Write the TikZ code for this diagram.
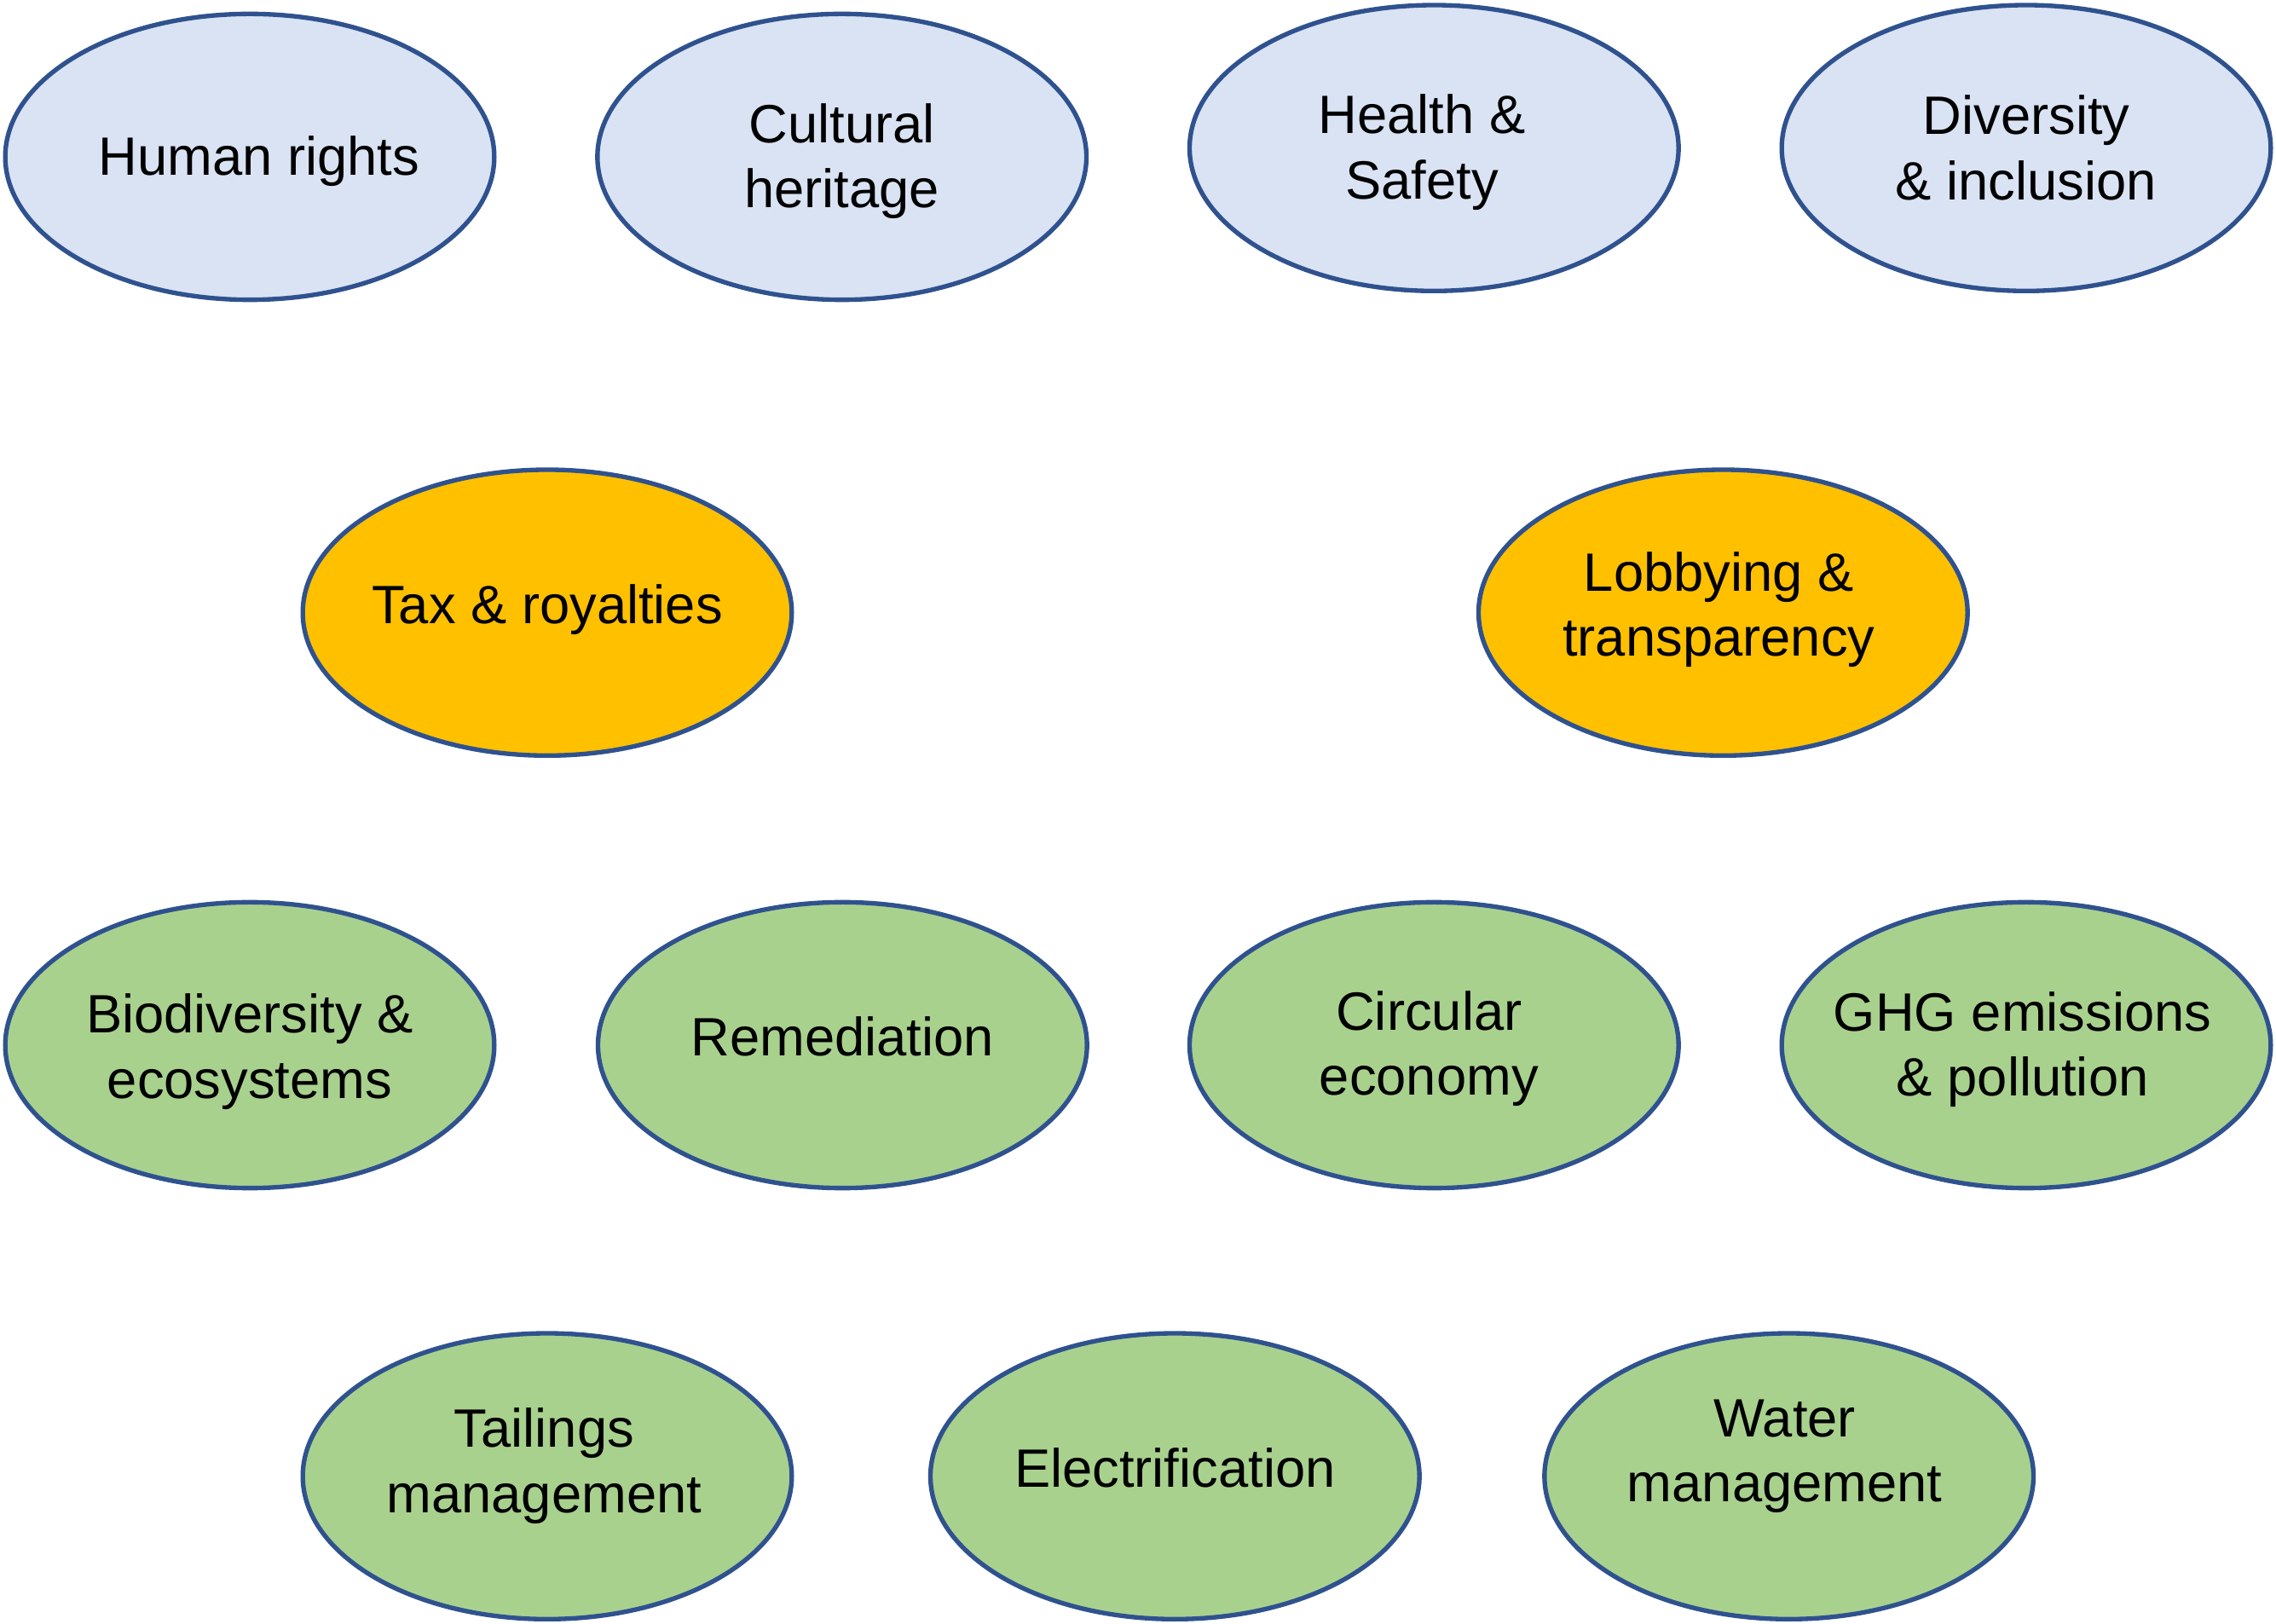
\documentclass[tikz,border=0pt]{standalone}
\usepackage{fontspec}
\setmainfont{Liberation Sans}
\usetikzlibrary{shapes.geometric}
\definecolor{edge}{HTML}{2F528F}
\definecolor{socfill}{HTML}{DAE3F3}
\definecolor{govfill}{HTML}{FFC000}
\definecolor{envfill}{HTML}{A9D18E}
\tikzset{
  bub/.style={ellipse, draw=edge, line width=1.6pt, minimum width=172.1pt, minimum height=100.6pt, inner sep=0pt},
  soc/.style={bub, fill=socfill},
  gov/.style={bub, fill=govfill},
  env/.style={bub, fill=envfill},
  lab/.style={font=\fontsize{19}{23}\selectfont, align=center, inner sep=0pt, text=black}
}
\begin{document}
\begin{tikzpicture}[x=1pt,y=1pt]
\useasboundingbox (0,0) rectangle (801,-571.5);
% social
\node[soc] (hr) at (87.9,-55.2) {};
\node[soc] (ch) at (296.3,-55.2) {};
\node[soc] (hs) at (504.7,-52.1) {};
\node[soc] (di) at (713.1,-52.1) {};
% governance
\node[gov] (tax) at (192.6,-215.6) {};
\node[gov] (lob) at (606.4,-215.6) {};
% environment
\node[env] (bio) at (87.9,-367.8) {};
\node[env] (rem) at (296.5,-367.8) {};
\node[env] (cir) at (504.7,-367.8) {};
\node[env] (ghg) at (713.1,-367.8) {};
\node[env] (tai) at (192.6,-519.5) {};
\node[env] (ele) at (413.5,-519.5) {};
\node[env] (wat) at (629.6,-519.5) {};
% labels
\node[lab] (thr) at ([shift={(3.3,-1.5)}]hr.center) {Human rights};
\node[lab] (tch) at ([shift={(0,-1.5)}]ch.center) {Cultural\\heritage};
\node[lab] (ths) at ([shift={(-4.3,-1.5)}]hs.center) {Health \&\\Safety};
\node[lab] (tdi) at ([shift={(0,0)}]di.center) {Diversity\\\& inclusion};
\node[lab] (ttax) at ([shift={(0,1.1)}]tax.center) {Tax \& royalties};
\node[lab] (tlob) at ([shift={(-1.5,1.1)}]lob.center) {Lobbying \&\\transparency};
\node[lab] (tbio) at ([shift={(0,-2.2)}]bio.center) {Biodiversity \&\\ecosystems};
\node[lab] (trem) at ([shift={(0,3)}]rem.center) {Remediation};
\node[lab] (tcir) at ([shift={(-1.8,-1.2)}]cir.center) {Circular\\economy};
\node[lab] (tghg) at ([shift={(-1.3,-1.5)}]ghg.center) {GHG emissions\\\& pollution};
\node[lab] (ttai) at ([shift={(-1.1,3.6)}]tai.center) {Tailings\\management};
\node[lab] (tele) at ([shift={(0,3)}]ele.center) {Electrification};
\node[lab] (twat) at ([shift={(-1.5,7)}]wat.center) {Water\\management};
\end{tikzpicture}
\end{document}
